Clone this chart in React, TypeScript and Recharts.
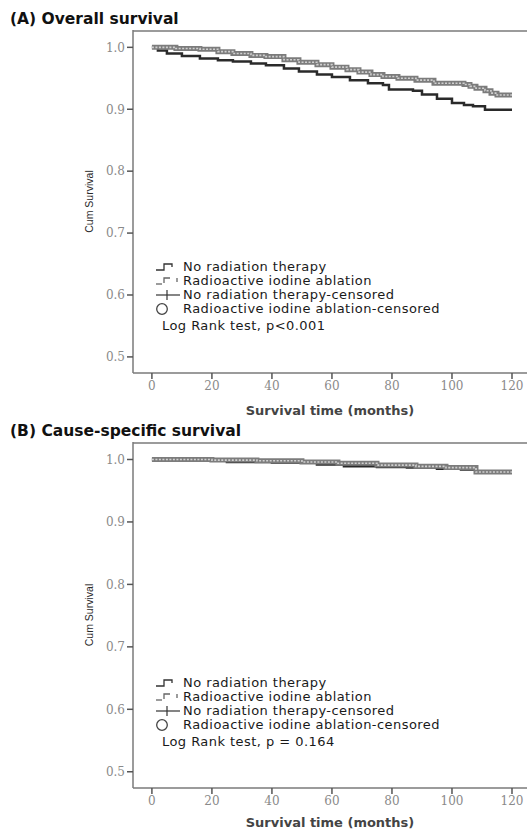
import React from "react";
import { Legend, Line, LineChart, ReferenceLine, XAxis, YAxis } from "recharts";

const X_TICKS = [0, 20, 40, 60, 80, 100, 120];
const Y_TICKS = [0.5, 0.6, 0.7, 0.8, 0.9, 1.0];
const X_DOMAIN: [number, number] = [-6.3, 125];
const Y_DOMAIN: [number, number] = [0.474, 1.028];
const FRAME_TOP = 1.0265;

// (A) Overall survival
const OS_NO_RT_MONTHS = [0, 2, 5, 10, 16, 22, 27, 33, 38, 44, 49, 55, 60, 66, 72, 77, 79, 87, 90, 95, 100, 104, 107, 111, 120];
const OS_NO_RT_SURV = [1.0, 0.995, 0.99, 0.986, 0.982, 0.979, 0.977, 0.974, 0.971, 0.966, 0.961, 0.956, 0.952, 0.947, 0.942, 0.939, 0.932, 0.93, 0.924, 0.917, 0.91, 0.907, 0.905, 0.899, 0.899];
const OS_RAI_MONTHS = [0, 8, 16, 22, 27, 33, 38, 44, 49, 55, 60, 65, 69, 73, 77, 82, 88, 94, 104, 106, 108, 111, 113, 115, 120];
const OS_RAI_SURV = [1.0, 0.998, 0.997, 0.993, 0.99, 0.987, 0.985, 0.98, 0.976, 0.972, 0.968, 0.964, 0.96, 0.956, 0.953, 0.95, 0.947, 0.942, 0.94, 0.937, 0.934, 0.93, 0.926, 0.923, 0.923];

// (B) Cause-specific survival
const CSS_NO_RT_MONTHS = [0, 10, 25, 40, 55, 64, 75, 85, 95, 103, 108, 120];
const CSS_NO_RT_SURV = [1.0, 0.998, 0.996, 0.995, 0.992, 0.989, 0.988, 0.987, 0.985, 0.984, 0.98, 0.98];
const CSS_RAI_MONTHS = [0, 20, 35, 50, 62, 75, 88, 98, 108, 120];
const CSS_RAI_SURV = [1.0, 0.999, 0.998, 0.996, 0.994, 0.991, 0.989, 0.987, 0.98, 0.98];

const LEGEND_LABELS = [
  "No radiation therapy",
  "Radioactive iodine ablation",
  "No radiation therapy-censored",
  "Radioactive iodine ablation-censored",
];

const SANS = "'DejaVu Sans', sans-serif";
const SERIF = "'DejaVu Serif', serif";
const AXIS = "#7a7a7a";
const TICK_TEXT = "#8a8a8a";
const PLOT_LEFT = 133;
const PLOT_TOP = 30;

type Pt = { month: number; surv: number };
const toSeries = (months: number[], surv: number[]): Pt[] =>
  months.map((m, i) => ({ month: m, surv: surv[i] }));

function LegendSymbol({ kind }: { kind: number }) {
  return (
    <svg width={28} height={14} style={{ flex: "none" }}>
      {kind === 0 && <path d="M1 10 H9 V4 H17 V7" stroke="#333" strokeWidth={1.3} fill="none" />}
      {kind === 1 && (
        <g stroke="#666" strokeWidth={1.3} fill="none">
          <path d="M1 10 H7" />
          <path d="M9 9 V4 H15" />
          <path d="M22 4 V8" />
        </g>
      )}
      {kind === 2 && (
        <g stroke="#333" strokeWidth={1.2}>
          <path d="M1 7 H25" />
          <path d="M12 2 V12" />
        </g>
      )}
      {kind === 3 && <circle cx={7} cy={7} r={5.3} stroke="#444" strokeWidth={1.3} fill="none" />}
    </svg>
  );
}

function LegendBox({ logRank }: { logRank: string }) {
  return (
    <div style={{ fontFamily: SANS, fontSize: 13, color: "#1a1a1a", letterSpacing: 0.45, lineHeight: "14px" }}>
      {LEGEND_LABELS.map((label, i) => (
        <div key={label} style={{ display: "flex", alignItems: "center", height: 14, whiteSpace: "nowrap" }}>
          <LegendSymbol kind={i} />
          <span>{label}</span>
        </div>
      ))}
      <div style={{ marginTop: 3, paddingLeft: 7, whiteSpace: "nowrap" }}>{logRank}</div>
    </div>
  );
}

function Panel({
  title,
  noRt,
  rai,
  logRank,
  top,
  height,
  xAxisHeight,
  labelDy,
  legendTop,
}: {
  title: string;
  noRt: Pt[];
  rai: Pt[];
  logRank: string;
  top: number;
  height: number;
  xAxisHeight: number;
  labelDy: number;
  legendTop: number;
}) {
  const xLabel = (props: any) => {
    const { x, y, width } = props.viewBox;
    return (
      <text x={x + width / 2} y={y + labelDy} textAnchor="middle" fontFamily={SANS} fontWeight="bold" fontSize={13} fill="#444">
        Survival time (months)
      </text>
    );
  };
  const yLabel = (props: any) => {
    const { x, y, height: h } = props.viewBox;
    const cx = x + 6;
    const cy = y + h / 2;
    return (
      <text x={cx} y={cy} dy="0.35em" transform={`rotate(-90, ${cx}, ${cy})`} textAnchor="middle" fontFamily="'Liberation Sans', Arial, sans-serif" fontSize={10.5} fill="#2a2a2a">
        Cum Survival
      </text>
    );
  };

  return (
    <div style={{ position: "absolute", left: 0, top, width: 527, height }}>
      <LineChart width={527} height={height} margin={{ top: PLOT_TOP, right: 0, bottom: 2, left: PLOT_LEFT - 50 }}>
        <XAxis
          type="number"
          dataKey="month"
          domain={X_DOMAIN}
          ticks={X_TICKS}
          allowDataOverflow
          height={xAxisHeight}
          tick={{ fontSize: 12, fill: TICK_TEXT, fontFamily: SERIF }}
          tickSize={6}
          tickLine={{ stroke: "#555", strokeWidth: 1.5 }}
          axisLine={{ stroke: AXIS, strokeWidth: 1.5 }}
          label={xLabel}
        />
        <YAxis
          type="number"
          domain={Y_DOMAIN}
          ticks={Y_TICKS}
          allowDataOverflow
          width={50}
          tickFormatter={(v: number) => v.toFixed(1)}
          tick={{ fontSize: 12, fill: TICK_TEXT, fontFamily: SERIF }}
          tickSize={6}
          tickLine={{ stroke: "#555", strokeWidth: 1.5 }}
          axisLine={{ stroke: AXIS, strokeWidth: 1.5 }}
          label={yLabel}
        />
        {/* top edge of the SPSS plot frame, just inside the domain */}
        <ReferenceLine y={FRAME_TOP} stroke={AXIS} strokeWidth={1.6} />
        <Line data={noRt} dataKey="surv" type="stepAfter" stroke="#2a2a2a" strokeWidth={2.5} dot={false} isAnimationActive={false} />
        <Line data={rai} dataKey="surv" type="stepAfter" stroke="#7c7c7c" strokeWidth={5} dot={false} isAnimationActive={false} />
        <Line data={rai} dataKey="surv" type="stepAfter" stroke="#d0d0d0" strokeWidth={1.6} strokeDasharray="2 1.5" dot={false} isAnimationActive={false} />
        <Legend
          layout="horizontal"
          verticalAlign="middle"
          align="center"
          content={() => <LegendBox logRank={logRank} />}
          wrapperStyle={{ left: 155, top: legendTop, width: 330 }}
        />
      </LineChart>
      <div style={{ position: "absolute", left: 10, top: 12, fontFamily: SANS, fontWeight: "bold", fontSize: 15.5, lineHeight: "15px", color: "#111", whiteSpace: "nowrap" }}>
        {title}
      </div>
    </div>
  );
}

export default function App() {
  return (
    <div style={{ position: "absolute", left: 0, top: 0, width: 527, height: 830, background: "#fff", overflow: "hidden" }}>
      <Panel
        title="(A) Overall survival"
        noRt={toSeries(OS_NO_RT_MONTHS, OS_NO_RT_SURV)}
        rai={toSeries(OS_RAI_MONTHS, OS_RAI_SURV)}
        logRank="Log Rank test, p<0.001"
        top={0}
        height={420}
        xAxisHeight={45}
        labelDy={42}
        legendTop={260}
      />
      <Panel
        title="(B) Cause-specific survival"
        noRt={toSeries(CSS_NO_RT_MONTHS, CSS_NO_RT_SURV)}
        rai={toSeries(CSS_RAI_MONTHS, CSS_RAI_SURV)}
        logRank="Log Rank test, p = 0.164"
        top={412}
        height={418}
        xAxisHeight={40}
        labelDy={39}
        legendTop={264}
      />
    </div>
  );
}
